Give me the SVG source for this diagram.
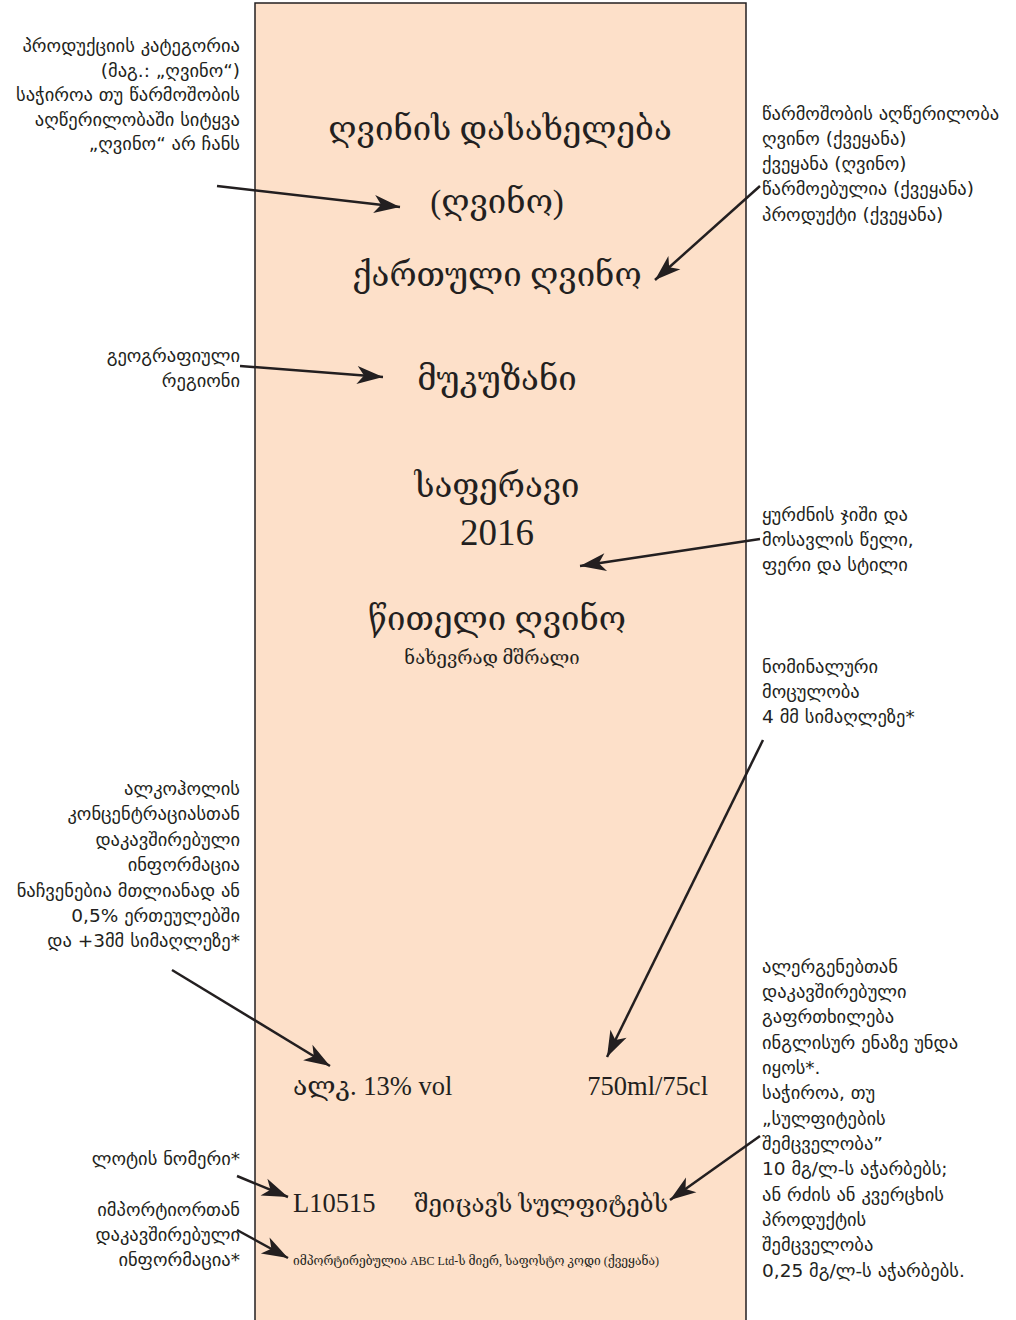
<svg xmlns="http://www.w3.org/2000/svg" width="1016" height="1320" viewBox="0 0 1016 1320">
<style>
.ann{font-family:"DejaVu Sans","Noto Sans",sans-serif;font-size:18.5px;fill:#231f20}
.l{text-anchor:end}
.lab{font-family:"Liberation Serif","DejaVu Serif","DejaVu Sans",serif;fill:#231f20}
.big{font-size:33px;text-anchor:middle}
.mid{font-size:26.5px}
.con{stroke:#231f20;stroke-width:2.5;fill:none;marker-end:url(#ah)}
</style>
<defs>
<marker id="ah" markerWidth="12" markerHeight="10" refX="11" refY="5" orient="auto" markerUnits="userSpaceOnUse" viewBox="0 0 12 10" overflow="visible">
<path d="M-26,-9 L0,0 L-26,9 L-19,0 Z" fill="#231f20" transform="translate(11,5)"/>
</marker>
</defs>
<rect width="1016" height="1320" fill="#ffffff"/>
<g id="label">
<rect x="255" y="3" width="491" height="1330" fill="#fde0c9" stroke="#231f20" stroke-width="1.5"/>
<text class="lab big" x="500" y="140">ღვინის დასახელება</text>
<text class="lab big" x="497" y="213">(ღვინო)</text>
<text class="lab big" x="497" y="286">ქართული ღვინო</text>
<text class="lab big" x="497" y="390">მუკუზანი</text>
<text class="lab big" x="497" y="497">საფერავი</text>
<text class="lab big" x="497" y="545" style="font-size:37px">2016</text>
<text class="lab big" x="497" y="630">წითელი ღვინო</text>
<text class="lab" x="492" y="664" font-size="18.5" text-anchor="middle">ნახევრად მშრალი</text>
<text class="lab mid" x="293" y="1095">ალკ. 13% vol</text>
<text class="lab mid" x="708" y="1095" text-anchor="end">750ml/75cl</text>
<text class="lab mid" x="293" y="1212">L10515</text>
<text class="lab" x="668" y="1212" font-size="24" text-anchor="end">შეიცავს სულფიტებს</text>
<text class="lab" x="293" y="1265" font-size="12">იმპორტირებულია ABC Ltd-ს მიერ, საფოსტო კოდი (ქვეყანა)</text>
</g>
<g id="note-category">
<text class="ann l" x="240" y="52">პროდუქციის კატეგორია</text>
<text class="ann l" x="240" y="77">(მაგ.:  „ღვინო“)</text>
<text class="ann l" x="240" y="101">საჭიროა თუ წარმოშობის</text>
<text class="ann l" x="240" y="126">აღწერილობაში სიტყვა</text>
<text class="ann l" x="240" y="150">„ღვინო“ არ ჩანს</text>
</g>
<g id="note-origin">
<text class="ann" x="762" y="120">წარმოშობის აღწერილობა</text>
<text class="ann" x="762" y="145">ღვინო (ქვეყანა)</text>
<text class="ann" x="762" y="170">ქვეყანა (ღვინო)</text>
<text class="ann" x="762" y="195">წარმოებულია (ქვეყანა)</text>
<text class="ann" x="762" y="221">პროდუქტი (ქვეყანა)</text>
</g>
<g id="note-region">
<text class="ann l" x="240" y="362">გეოგრაფიული</text>
<text class="ann l" x="240" y="387">რეგიონი</text>
</g>
<g id="note-grape">
<text class="ann" x="762" y="521">ყურძნის ჯიში და</text>
<text class="ann" x="762" y="546">მოსავლის წელი,</text>
<text class="ann" x="762" y="571">ფერი და სტილი</text>
</g>
<g id="note-volume">
<text class="ann" x="762" y="673">ნომინალური</text>
<text class="ann" x="762" y="698">მოცულობა</text>
<text class="ann" x="762" y="723">4 მმ სიმაღლეზე*</text>
</g>
<g id="note-alcohol">
<text class="ann l" x="240" y="795">ალკოჰოლის</text>
<text class="ann l" x="240" y="820">კონცენტრაციასთან</text>
<text class="ann l" x="240" y="846">დაკავშირებული</text>
<text class="ann l" x="240" y="871">ინფორმაცია</text>
<text class="ann l" x="240" y="897">ნაჩვენებია მთლიანად ან</text>
<text class="ann l" x="240" y="922">0,5% ერთეულებში</text>
<text class="ann l" x="240" y="947">და +3მმ სიმაღლეზე*</text>
</g>
<g id="note-allergen">
<text class="ann" x="762" y="973">ალერგენებთან</text>
<text class="ann" x="762" y="998">დაკავშირებული</text>
<text class="ann" x="762" y="1023">გაფრთხილება</text>
<text class="ann" x="762" y="1049">ინგლისურ ენაზე უნდა</text>
<text class="ann" x="762" y="1074">იყოს*.</text>
<text class="ann" x="762" y="1099">საჭიროა, თუ</text>
<text class="ann" x="762" y="1125">„სულფიტების</text>
<text class="ann" x="762" y="1150">შემცველობა”</text>
<text class="ann" x="762" y="1175">10 მგ/ლ-ს აჭარბებს;</text>
<text class="ann" x="762" y="1201">ან რძის ან კვერცხის</text>
<text class="ann" x="762" y="1226">პროდუქტის</text>
<text class="ann" x="762" y="1251">შემცველობა</text>
<text class="ann" x="762" y="1277">0,25 მგ/ლ-ს აჭარბებს.</text>
</g>
<g id="note-lot">
<text class="ann l" x="240" y="1165">ლოტის ნომერი*</text>
</g>
<g id="note-importer">
<text class="ann l" x="240" y="1216">იმპორტიორთან</text>
<text class="ann l" x="240" y="1241">დაკავშირებული</text>
<text class="ann l" x="240" y="1266">ინფორმაცია*</text>
</g>
<g id="connectors">
<line class="con" x1="217" y1="186" x2="400" y2="207"/>
<line class="con" x1="760" y1="186" x2="655" y2="280"/>
<line class="con" x1="240" y1="366" x2="383" y2="377"/>
<line class="con" x1="760" y1="539" x2="580" y2="566"/>
<line class="con" x1="763" y1="740" x2="607" y2="1057"/>
<line class="con" x1="172" y1="970" x2="330" y2="1066"/>
<line class="con" x1="760" y1="1136" x2="670" y2="1200"/>
<line class="con" x1="237" y1="1176" x2="288" y2="1197"/>
<line class="con" x1="237" y1="1230" x2="288" y2="1258"/>
</g>
</svg>
